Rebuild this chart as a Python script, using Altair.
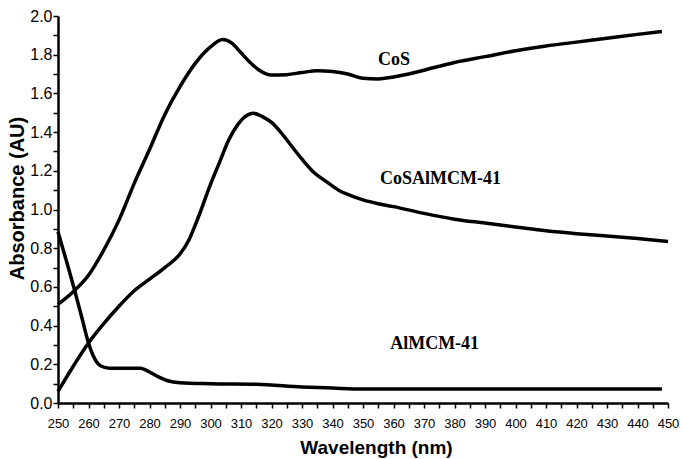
import altair as alt
import pandas as pd

# ---- data ----
cos_wl = [250, 255, 260, 265, 270, 275, 280, 285, 290, 295, 300, 304, 307, 310, 313, 316,
          320, 325, 330, 335, 340, 345, 350, 355, 360, 365, 370, 380, 390, 400, 410, 420, 430, 440, 448]
cos_abs = [0.51, 0.575, 0.66, 0.79, 0.945, 1.135, 1.31, 1.49, 1.635, 1.755, 1.84, 1.878, 1.86,
           1.81, 1.76, 1.72, 1.695, 1.697, 1.708, 1.717, 1.713, 1.70, 1.678, 1.675, 1.685, 1.70,
           1.72, 1.76, 1.79, 1.82, 1.845, 1.865, 1.885, 1.905, 1.92]

cosal_wl = [250, 255, 260, 265, 270, 275, 280, 285, 290, 293, 296, 300, 303, 306, 309, 312, 314,
            317, 320, 323, 326, 330, 334, 338, 342, 346, 350, 355, 360, 370, 380, 390, 400, 410,
            420, 430, 440, 450]
cosal_abs = [0.06, 0.19, 0.31, 0.41, 0.50, 0.58, 0.64, 0.70, 0.77, 0.845, 0.96, 1.13, 1.245, 1.36,
             1.44, 1.487, 1.497, 1.48, 1.45, 1.40, 1.34, 1.26, 1.19, 1.144, 1.10, 1.072, 1.05,
             1.03, 1.015, 0.98, 0.95, 0.93, 0.91, 0.89, 0.875, 0.863, 0.85, 0.835]

al_wl = [250, 252, 254, 256, 258, 260, 261.5, 263, 265, 267, 272, 277, 280, 283, 286, 290, 300,
         315, 330, 340, 350, 360, 380, 400, 420, 448]
al_abs = [0.885, 0.775, 0.665, 0.55, 0.43, 0.31, 0.245, 0.205, 0.185, 0.18, 0.18, 0.18, 0.16, 0.135,
          0.115, 0.105, 0.10, 0.097, 0.083, 0.077, 0.072, 0.072, 0.072, 0.072, 0.072, 0.072]

series_names = ["CoS", "CoSAlMCM-41", "AlMCM-41"]
label_wl = [354.9, 355.6, 358.9]
label_abs = [1.773, 1.16, 0.307]

x_ticks = list(range(250, 451, 5))
y_ticks = [round(i * 0.1, 1) for i in range(0, 21)]

rows = []
for name, wls, vals in [("CoS", cos_wl, cos_abs), ("CoSAlMCM-41", cosal_wl, cosal_abs),
                        ("AlMCM-41", al_wl, al_abs)]:
    for w, v in zip(wls, vals):
        rows.append({"series": name, "wl": w, "abs": v})
df = pd.DataFrame(rows)
labels_df = pd.DataFrame({"label": series_names, "wl": label_wl, "abs": label_abs})

x_scale = alt.Scale(domain=[250, 450], nice=False, zero=False)
y_scale = alt.Scale(domain=[0, 2.0], nice=False)

x_axis = alt.Axis(
    title="Wavelength (nm)", values=x_ticks,
    labelExpr="datum.value % 10 == 0 ? datum.label : ''", labelOverlap=False,
    labelFlush=False, labelBound=False,
    labelFontSize=13, labelPadding=9, ticks=True, tickSize=5, tickWidth=1.5,
    titleFontSize=19, titleFontWeight="bold", titleX=318, titleY=44,
    titleBaseline="middle", titleAlign="center", grid=False,
)
y_axis = alt.Axis(
    title="Absorbance (AU)", values=y_ticks, format=".1f",
    labelExpr="round(datum.value * 10) % 2 == 0 ? datum.label : ''", labelOverlap=False,
    labelFlush=False, labelBound=False,
    labelFontSize=16, labelPadding=1, ticks=True, tickSize=5, tickWidth=1.5,
    titleFontSize=20, titleFontWeight="bold", titleX=-41, titleY=182,
    titleAngle=270, titleBaseline="middle", titleAlign="center", grid=False,
)

lines = alt.Chart(df).mark_line(color="black", strokeWidth=3.5, interpolate="monotone").encode(
    x=alt.X("wl:Q", scale=x_scale, axis=x_axis),
    y=alt.Y("abs:Q", scale=y_scale, axis=y_axis),
    detail="series:N",
)

texts = alt.Chart(labels_df).mark_text(
    font="Liberation Serif", fontWeight="bold", fontSize=18, align="left",
    baseline="middle", color="black",
).encode(
    x=alt.X("wl:Q", scale=x_scale, axis=x_axis),
    y=alt.Y("abs:Q", scale=y_scale, axis=y_axis),
    text="label:N",
)

chart = alt.layer(lines, texts).properties(
    width=610, height=387,
    autosize=alt.AutoSizeParams(type="none"),
    padding={"left": 58, "top": 16, "right": 15, "bottom": 56},
    background="white",
).configure_view(stroke=None).configure_axis(
    domainColor="black", domainWidth=2.5, tickColor="black",
    labelColor="black", titleColor="black",
    labelFont="Liberation Sans", titleFont="Liberation Sans",
)

chart.save("out.html", embed_options={"renderer": "svg", "actions": False})
